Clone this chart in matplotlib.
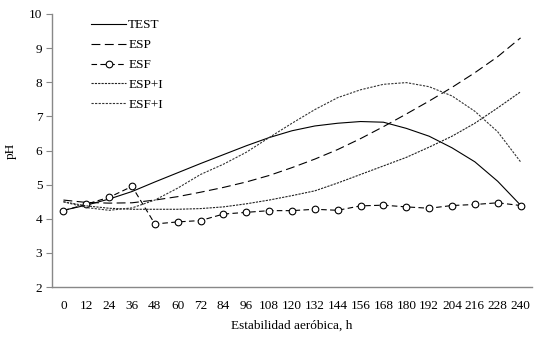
import matplotlib
matplotlib.use("Agg")
import matplotlib.pyplot as plt

# Datos (pH frente a horas de exposicion al aire)
horas = [0, 12, 24, 36, 48, 60, 72, 84, 96, 108, 120, 132, 144, 156, 168, 180, 192, 204, 216, 228, 240]
test = [4.25, 4.40, 4.58, 4.80, 5.08, 5.35, 5.62, 5.88, 6.14, 6.38, 6.58, 6.72, 6.80, 6.85, 6.83, 6.65, 6.42, 6.08, 5.67, 5.10, 4.40]
esp = [4.55, 4.48, 4.46, 4.47, 4.55, 4.65, 4.78, 4.92, 5.08, 5.27, 5.50, 5.75, 6.03, 6.35, 6.70, 7.07, 7.45, 7.85, 8.28, 8.75, 9.30]
esf = [4.24, 4.43, 4.63, 4.95, 3.85, 3.91, 3.95, 4.14, 4.19, 4.24, 4.24, 4.28, 4.25, 4.38, 4.40, 4.35, 4.31, 4.39, 4.42, 4.47, 4.39]
esp_i = [4.50, 4.38, 4.31, 4.28, 4.28, 4.28, 4.30, 4.35, 4.44, 4.55, 4.68, 4.82, 5.05, 5.30, 5.55, 5.80, 6.10, 6.42, 6.80, 7.25, 7.72]
esf_i = [4.50, 4.33, 4.25, 4.32, 4.55, 4.90, 5.30, 5.60, 5.95, 6.38, 6.80, 7.20, 7.55, 7.78, 7.94, 7.99, 7.87, 7.60, 7.15, 6.55, 5.67]

plt.rcParams['font.family'] = ['Liberation Serif', 'DejaVu Serif']
plt.rcParams['font.size'] = 9.5

fig = plt.figure(figsize=(5.39, 3.41), dpi=100)
ax = fig.add_axes([0.0965, 0.158, 0.8905, 0.801])

lw = 0.8
ax.plot(horas, test, color='black', lw=lw, label='TEST')
ax.plot(horas, esp, color='black', lw=lw, dashes=(8, 4), label='ESP')
ax.plot(horas, esf, color='black', lw=lw, dashes=(5, 3), marker='o', markersize=4.8,
        markerfacecolor='white', markeredgecolor='black', markeredgewidth=0.8, label='ESF')
ax.plot(horas, esp_i, color='#222222', lw=lw, dashes=(2, 1), label='ESP+I')
ax.plot(horas, esf_i, color='#333333', lw=lw, dashes=(2, 1.2), label='ESF+I')

ax.set_xlim(-6, 246)
ax.set_ylim(2, 10)
ax.set_xticks(horas)
ax.set_xticklabels([str(h) for h in horas])
ax.set_yticks(range(2, 11))

for s in ['top', 'right']:
    ax.spines[s].set_visible(False)
for s in ['left', 'bottom']:
    ax.spines[s].set_color('#888888')
    ax.spines[s].set_linewidth(1.0)
ax.tick_params(axis='x', length=0, pad=9)
ax.tick_params(axis='y', length=4, color='#888888', pad=3)

ax.set_xlabel('Estabilidad aeróbica, h', labelpad=6)
ax.set_ylabel('pH', labelpad=9)

ax.legend(loc='upper left', bbox_to_anchor=(0.068, 1.005), frameon=False,
          handlelength=2.65, handletextpad=0.15, labelspacing=0.58, borderpad=0)

fig.savefig('out.png', dpi=100)
